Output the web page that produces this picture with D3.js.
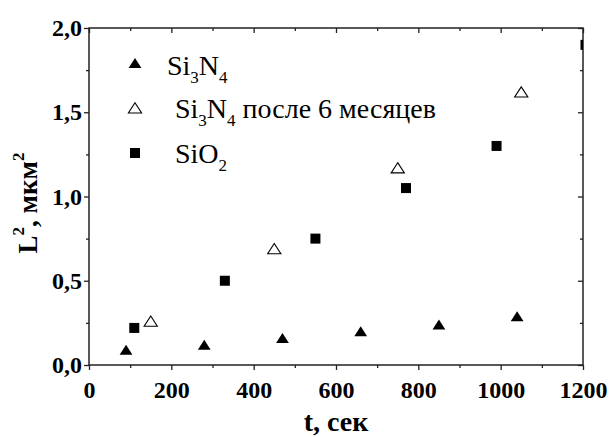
<!DOCTYPE html>
<html>
<head>
<meta charset="utf-8">
<script src="https://cdn.jsdelivr.net/npm/d3@7"></script>
<style>
  body { margin: 0; background: #fff; }
  svg { display: block; font-family: "Liberation Serif", "Times New Roman", serif; }
  svg text { font-family: "Liberation Serif", "Times New Roman", serif; }
  .tick text { font-weight: bold; font-size: 24px; fill: #000; }
  .legend text { font-size: 28px; fill: #000; }
</style>
</head>
<body>
<div id="chart"></div>
<script>
// data
var si3n4T = [90, 280, 470, 660, 850, 1040];
var si3n4L = [0.09, 0.12, 0.16, 0.20, 0.24, 0.29];

var agedT = [150, 450, 750, 1050];
var agedL = [0.26, 0.69, 1.17, 1.62];

var sio2T = [110, 330, 550, 770, 990, 1206];
var sio2L = [0.22, 0.50, 0.75, 1.05, 1.30, 1.90];

var xTicks = [0, 200, 400, 600, 800, 1000, 1200];
var yTicks = [0, 0.5, 1.0, 1.5, 2.0];

var svgWidth = 611;
var svgHeight = 437;
var margin = {top: 28, right: 28, bottom: 72, left: 89};
var width = svgWidth - margin.left - margin.right;
var height = svgHeight - margin.top - margin.bottom;

var svg = d3.select("#chart")
            .append("svg")
            .attr("width", svgWidth)
            .attr("height", svgHeight);

var chartGroup = svg.append("g")
                    .attr("transform", `translate(${margin.left},${margin.top})`);

var xScale = d3.scaleLinear().domain([0, 1200]).range([0, width]);
var yScale = d3.scaleLinear().domain([0, 2]).range([height, 0]);

function fmt(v) { return d3.format(".1f")(v).replace(".", ","); }

// minor ticks
var xMinor = d3.range(100, 1200, 200);
var yMinor = d3.range(0.25, 2, 0.5);

function clean(g) {
  g.attr("font-family", null).attr("font-size", null);
  g.select(".domain").remove();
}

// bottom axis (ticks outward)
chartGroup.append("g")
    .attr("transform", `translate(0,${height})`)
    .call(d3.axisBottom(xScale).tickValues(xTicks).tickSize(5).tickPadding(11).tickFormat(d3.format("d")))
    .call(clean);
chartGroup.append("g")
    .attr("transform", `translate(0,${height})`)
    .call(d3.axisBottom(xScale).tickValues(xMinor).tickSize(3).tickFormat(""))
    .call(clean);

// top axis (ticks inward)
chartGroup.append("g")
    .call(d3.axisBottom(xScale).tickValues(xTicks).tickSize(5).tickFormat(""))
    .call(clean);
chartGroup.append("g")
    .call(d3.axisBottom(xScale).tickValues(xMinor).tickSize(3).tickFormat(""))
    .call(clean);

// left axis (ticks outward)
chartGroup.append("g")
    .call(d3.axisLeft(yScale).tickValues(yTicks).tickSize(5).tickPadding(2).tickFormat(fmt))
    .call(clean);
chartGroup.append("g")
    .call(d3.axisLeft(yScale).tickValues(yMinor).tickSize(3).tickFormat(""))
    .call(clean);

// right axis (ticks inward)
chartGroup.append("g")
    .attr("transform", `translate(${width},0)`)
    .call(d3.axisLeft(yScale).tickValues(yTicks).tickSize(5).tickFormat(""))
    .call(clean);
chartGroup.append("g")
    .attr("transform", `translate(${width},0)`)
    .call(d3.axisLeft(yScale).tickValues(yMinor).tickSize(3).tickFormat(""))
    .call(clean);

chartGroup.selectAll(".tick line").attr("stroke", "#222").attr("stroke-width", 1.3);

// frame
chartGroup.append("rect")
    .attr("width", width)
    .attr("height", height)
    .attr("fill", "none")
    .attr("stroke", "#222")
    .attr("stroke-width", 1.5);

// clip for points
chartGroup.append("clipPath").attr("id", "plotClip")
    .append("rect").attr("width", width).attr("height", height);
var pts = chartGroup.append("g").attr("clip-path", "url(#plotClip)");

var triPath = "M0,-5L6.4,5L-6.4,5Z";
var openTriPath = "M0,-5.2L6.6,5L-6.6,5Z";

pts.selectAll(".sin").data(si3n4T).enter()
    .append("path")
    .attr("d", triPath)
    .attr("transform", (d, i) => `translate(${xScale(d)},${yScale(si3n4L[i])})`)
    .attr("fill", "#000");

pts.selectAll(".aged").data(agedT).enter()
    .append("path")
    .attr("d", openTriPath)
    .attr("transform", (d, i) => `translate(${xScale(d)},${yScale(agedL[i])})`)
    .attr("fill", "#fff")
    .attr("stroke", "#000")
    .attr("stroke-width", 1.1);

pts.selectAll(".sio").data(sio2T).enter()
    .append("rect")
    .attr("x", d => xScale(d) - 5)
    .attr("y", (d, i) => yScale(sio2L[i]) - 5)
    .attr("width", 10)
    .attr("height", 10)
    .attr("fill", "#000");

// legend
var legend = chartGroup.append("g").attr("class", "legend");
var lx = 135 - margin.left;

legend.append("path").attr("d", triPath)
    .attr("transform", `translate(${lx},${63 - margin.top})`).attr("fill", "#000");
legend.append("path").attr("d", openTriPath)
    .attr("transform", `translate(${lx},${108 - margin.top})`)
    .attr("fill", "#fff").attr("stroke", "#000").attr("stroke-width", 1.1);
legend.append("rect")
    .attr("x", lx - 5).attr("y", 153 - margin.top - 5)
    .attr("width", 10).attr("height", 10).attr("fill", "#000");

var legendRows = [
  {x: 167, y: 75, parts: [["Si", 0], ["3", 1], ["N", 0], ["4", 1]]},
  {x: 175, y: 118, parts: [["Si", 0], ["3", 1], ["N", 0], ["4", 1], [" после 6 месяцев", 0]]},
  {x: 175, y: 163, parts: [["SiO", 0], ["2", 1]]}
];
legendRows.forEach(function(row) {
  var t = legend.append("text")
      .attr("x", row.x - margin.left)
      .attr("y", row.y - margin.top)
      .attr("xml:space", "preserve");
  var shifted = false;
  row.parts.forEach(function(p) {
    var ts = t.append("tspan").text(p[0]);
    if (p[1] && !shifted) { ts.attr("dy", 8).attr("font-size", "17px"); shifted = true; }
    else if (p[1]) { ts.attr("font-size", "17px"); }
    else if (shifted) { ts.attr("dy", -8); shifted = false; }
  });
});

// axis titles
svg.append("text")
    .attr("x", margin.left + width / 2)
    .attr("y", 431)
    .attr("text-anchor", "middle")
    .attr("font-weight", "bold")
    .attr("font-size", "28px")
    .text("t, сек");

var yTitle = svg.append("text")
    .attr("transform", "translate(37,203) rotate(-90)")
    .attr("text-anchor", "middle")
    .attr("font-weight", "bold")
    .attr("font-size", "27px")
    .attr("xml:space", "preserve");
yTitle.append("tspan").text("L");
yTitle.append("tspan").attr("dy", -13).attr("font-size", "17px").text("2");
yTitle.append("tspan").attr("dy", 13).text(", мкм");
yTitle.append("tspan").attr("dy", -13).attr("font-size", "17px").text("2");
</script>
</body>
</html>
